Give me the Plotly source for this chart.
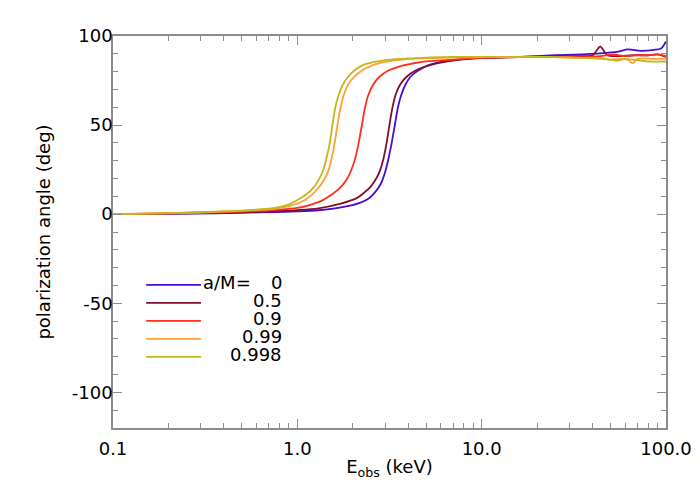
import plotly.graph_objects as go

# spin labels and colours
spins = ['0', '0.5', '0.9', '0.99', '0.998']
colors = ['#4a0ad6', '#80102a', '#ff3018', '#ffa038', '#c2b818']

# energies (keV) and polarization angle (deg)
e_a0 = [0.1, 0.2, 0.35, 0.5, 0.75, 1.0, 1.3, 1.6, 1.9, 2.2, 2.45, 2.65, 2.85, 3.0, 3.12, 3.25, 3.38, 3.5, 3.65,
        3.85, 4.1, 4.5, 5.2, 6.2, 8, 10, 16, 25, 35, 44, 55, 62, 73, 86, 94, 100]
pa_a0 = [0, 0.2, 0.5, 0.8, 1.2, 1.6, 2.2, 3.2, 4.6, 6.5, 9, 12.5, 17.5, 24, 31, 40, 50, 59, 66.5,
         72.5, 77, 80.5, 83.8, 85.8, 87, 87.7, 88.3, 89.2, 89.7, 90.2, 91.2, 92.5, 91.7, 92.2, 93, 97]

e_a05 = [0.1, 0.2, 0.35, 0.5, 0.75, 1.0, 1.3, 1.7, 2.1, 2.3, 2.5, 2.68, 2.82, 2.93, 3.05, 3.16, 3.27, 3.4, 3.6,
         3.9, 4.4, 5.5, 7, 10, 16, 25, 35, 40, 44, 48, 55, 66, 80, 90, 100]
pa_a05 = [0, 0.3, 0.7, 1.1, 1.7, 2.3, 3.3, 5.8, 9, 12, 15.5, 20, 25, 31, 40, 50, 59, 66.5, 72.5,
          77, 80.8, 84.2, 86.2, 87.7, 88.2, 88.7, 88.7, 89.2, 94, 89.2, 88.7, 89.2, 89.2, 89.7, 88.2]

e_a09 = [0.1, 0.2, 0.35, 0.5, 0.75, 1.0, 1.15, 1.35, 1.51, 1.65, 1.78, 1.9, 2.0, 2.08, 2.16, 2.24, 2.32, 2.42, 2.57,
         2.78, 3.1, 3.6, 4.3, 5, 7, 10, 16, 25, 35, 44, 52, 60, 70, 80, 90, 100]
pa_a09 = [0, 0.4, 1, 1.5, 2.3, 3.5, 5, 7.5, 10.5, 13.5, 17, 21.5, 27, 33, 41, 50, 59, 66.5, 72.5,
          77, 80.5, 83, 84.7, 85.7, 86.7, 87.7, 88.2, 88.2, 88.2, 88.7, 89.7, 88.7, 89.2, 89.2, 89.7, 88.7]

e_a099 = [0.1, 0.2, 0.35, 0.5, 0.75, 0.9, 1.0, 1.1, 1.2, 1.3, 1.4, 1.48, 1.54, 1.6, 1.65, 1.71, 1.78, 1.88, 2.03,
          2.25, 2.55, 2.93, 3.5, 4.1, 6, 10, 16, 25, 35, 44, 50, 55, 62, 66, 70, 86, 100]
pa_a099 = [0, 0.5, 1.2, 1.8, 3, 4.5, 6, 8, 11, 14.8, 19.5, 25, 32, 41, 50, 59, 66.5, 72.5, 77,
           80.8, 83.5, 85.3, 86.5, 87.2, 87.7, 88.2, 88.2, 88.2, 87.7, 87.7, 86.7, 87.2, 86.7, 84.7, 87.2, 87.2, 87.2]

e_a0998 = [0.1, 0.2, 0.35, 0.5, 0.75, 0.9, 1.04, 1.13, 1.22, 1.3, 1.38, 1.44, 1.5, 1.55, 1.6, 1.67, 1.76, 1.88,
           2.03, 2.25, 2.59, 3.0, 3.63, 6, 10, 16, 25, 35, 44, 50, 55, 60, 66, 80, 100]
pa_a0998 = [0, 0.6, 1.4, 2, 3.5, 5.5, 9, 11.5, 14.8, 19, 24.5, 31.5, 40, 50, 59, 66.5, 72.5, 77,
            80.5, 83.5, 85.3, 86.5, 87.2, 88.2, 88.2, 88.2, 88.2, 87.7, 87.2, 86.7, 86.2, 87.2, 86.7, 85.7, 85.7]

curves = [(e_a0, pa_a0), (e_a05, pa_a05), (e_a09, pa_a09), (e_a099, pa_a099), (e_a0998, pa_a0998)]

x_tickvals = [0.1, 1, 10, 100]
x_ticktext = ['0.1', '1.0', '10.0', '100.0']
y_tickvals = [-100, -50, 0, 50, 100]
y_ticktext = ['-100', '-50', '0', '50', '100']

font = 'DejaVu Sans, Liberation Sans, sans-serif'

fig = go.Figure()
for (e, pa), c in zip(curves, colors):
    fig.add_trace(go.Scatter(x=e, y=pa, mode='lines', line=dict(color=c, width=1.8, smoothing=0.8),
                             line_shape='spline', showlegend=False))

axis_common = dict(showline=True, linecolor='#8c8c8c', linewidth=1.5, mirror='ticks',
                   ticks='inside', tickcolor='#8c8c8c', tickwidth=1, showgrid=False,
                   zeroline=False, automargin=False,
                   tickfont=dict(size=18, color='black', family=font))

fig.update_xaxes(type='log', range=[-1, 2], tickvals=x_tickvals, ticktext=x_ticktext,
                 ticklen=9, ticklabelstandoff=4,
                 minor=dict(ticks='inside', ticklen=5, tickcolor='#8c8c8c',
                            tickvals=[m * 10 ** k for k in (-1, 0, 1) for m in range(2, 10)]),
                 title=dict(text='E<sub>obs</sub> (keV)', font=dict(size=18, color='black', family=font),
                            standoff=2),
                 **axis_common)
fig.update_yaxes(range=[-120, 100], tickvals=y_tickvals, ticktext=y_ticktext, ticklen=9,
                 ticklabelstandoff=-5,
                 minor=dict(ticks='inside', ticklen=5, tickcolor='#8c8c8c', dtick=10),
                 title=dict(text='polarization angle (deg)', font=dict(size=18, color='black', family=font),
                            standoff=16),
                 **axis_common)

# legend drawn inside the axes
x0, x1 = 0.06, 0.159
ytop, dy = 0.365, 0.0459
for i, (s, c) in enumerate(zip(spins, colors)):
    yy = ytop - i * dy
    fig.add_shape(type='line', xref='paper', yref='paper', x0=x0, x1=x1, y0=yy, y1=yy,
                  line=dict(color=c, width=1.8))
    fig.add_annotation(xref='paper', yref='paper', x=0.309, y=yy + 0.006, text=s, showarrow=False,
                       xanchor='right', yanchor='middle', font=dict(size=18, color='black', family=font))
fig.add_annotation(xref='paper', yref='paper', x=0.160, y=ytop + 0.006, text='a/M=', showarrow=False,
                   xanchor='left', yanchor='middle', font=dict(size=18, color='black', family=font))

# page body adds an 8px offset, so the figure is slightly smaller than the window
fig.update_layout(width=692, height=492, margin=dict(l=105, r=34, t=28, b=72),
                  plot_bgcolor='white', paper_bgcolor='white')

fig.write_html("out.html")
